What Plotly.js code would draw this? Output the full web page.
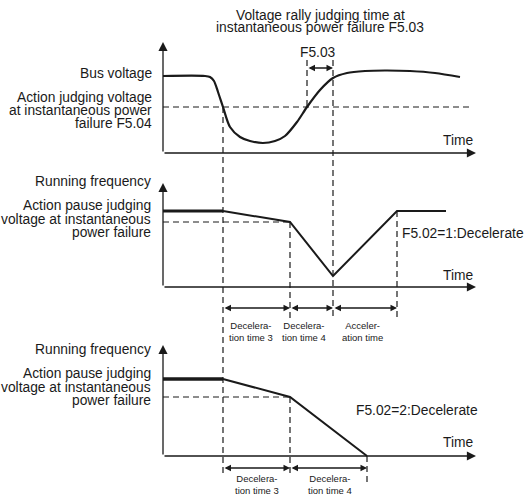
<!DOCTYPE html>
<html>
<head>
<meta charset="utf-8">
<script src="https://cdn.plot.ly/plotly-3.0.1.min.js"></script>
<style>
  html, body { margin: 0; padding: 0; background: #fff; }
  #chart { width: 525px; height: 496px; }
</style>
</head>
<body>
<div id="chart"></div>
<script>
// Power failure ride-through timing diagram (three stacked panels)

// --- time marks (shared time axis, 0 = vertical axis) ---
const tFail = 60;      // bus voltage drops below F5.04
const tRally = 144;    // bus voltage back above F5.04
const tRecover = 170;  // rally judging time F5.03 elapsed
const tDec3 = 127;     // end of deceleration time 3
const tAcc = 234;      // end of acceleration time
const tStop = 204;     // frequency reaches zero (F5.02=2)

// --- panel 1: bus voltage ---
const busT = [0, 42, 47, 51, 55, 60, 67, 77, 87, 100, 112, 122, 134, 144, 157, 170, 184, 202, 222, 247, 272, 297];
const busV = [77, 77, 76, 72, 61, 46, 26, 16, 12, 10, 12, 17, 31, 46, 63, 75, 80, 82, 82.5, 82, 80, 76];
const failLevel = 46;  // F5.04

// --- panel 2: running frequency, F5.02=1 ---
const run1T = [tFail, tDec3, tRecover, tAcc, 283];
const run1V = [76, 65, 11, 76, 76];
const run1Hold = [0, tFail];
const run1HoldV = [76, 76];
const pause1 = 65;

// --- panel 3: running frequency, F5.02=2 ---
const run2T = [tFail, tDec3, tStop];
const run2V = [77, 59, 0];
const run2Hold = [0, tFail];
const run2HoldV = [77, 77];
const pause2 = 59;

const axisEnd = 313;

const W = 525, H = 496;
const px = x => x / W;
const py = y => 1 - y / H;

const ink = '#1a1a1a';
const dashStyle = { color: ink, width: 1.2, dash: '6px,4px' };

function line(x, y, yaxis, style, shape) {
    return {
        x: x, y: y, yaxis: yaxis,
        type: 'scatter', mode: 'lines',
        line: Object.assign({}, style, shape ? { shape: shape, smoothing: 0.8 } : {}),
        hoverinfo: 'skip', showlegend: false
    };
}

const traces = [
    // panel 1
    line([0, 309], [failLevel, failLevel], 'y', dashStyle),
    line([tRally, tRally], [93, failLevel], 'y', dashStyle),
    line([tRecover, tRecover], [93, -165], 'y', dashStyle),
    line([tFail, tFail], [failLevel, -324], 'y', dashStyle),
    line(busT, busV, 'y', { color: ink, width: 2.2 }, 'spline'),
    // panel 2
    line([0, tDec3], [pause1, pause1], 'y2', dashStyle),
    line([tDec3, tDec3], [pause1, -31], 'y2', dashStyle),
    line([tAcc, tAcc], [76, -31], 'y2', dashStyle),
    line(run1T, run1V, 'y2', { color: ink, width: 2 }),
    line(run1Hold, run1HoldV, 'y2', { color: ink, width: 3 }),
    // panel 3
    line([0, tDec3], [pause2, pause2], 'y3', dashStyle),
    line([tDec3, tDec3], [pause2, -19], 'y3', dashStyle),
    line([tStop, tStop], [0, -26], 'y3', dashStyle)
];
traces.push(line(run2T, run2V, 'y3', { color: ink, width: 2 }));
traces.push(line(run2Hold, run2HoldV, 'y3', { color: ink, width: 3.5 }));

const font = { family: 'Liberation Sans, Arial, sans-serif', size: 13.8, color: ink };
const small = { family: 'Liberation Sans, Arial, sans-serif', size: 9.5, color: ink };

const annotations = [];

function arrow(x0, y0, x1, y1, yref, both, opts) {
    annotations.push(Object.assign({
        x: x1, y: y1, ax: x0, ay: y0,
        xref: 'x', yref: yref, axref: 'x', ayref: yref,
        text: '', showarrow: true,
        arrowhead: 2, startarrowhead: 2,
        arrowside: both ? 'end+start' : 'end',
        arrowsize: 1, startarrowsize: 1,
        arrowwidth: 1.3, arrowcolor: ink, standoff: 0, startstandoff: 0
    }, opts || {}));
}

function label(text, x, y, anchor, f) {
    annotations.push({
        text: text, x: px(x), y: py(y), xref: 'paper', yref: 'paper',
        xanchor: anchor, yanchor: 'middle', showarrow: false,
        align: anchor === 'right' ? 'right' : (anchor === 'left' ? 'left' : 'center'),
        font: f || font
    });
}

// axes with arrowheads
arrow(0, 0, 0, 111, 'y', false, { arrowsize: 1.4 });
arrow(0, 0, axisEnd, 0, 'y', false, { arrowsize: 1.4 });
arrow(0, 0, 0, 104, 'y2', false, { arrowsize: 1.4 });
arrow(0, 0, axisEnd, 0, 'y2', false, { arrowsize: 1.4 });
arrow(0, 0, 0, 111, 'y3', false, { arrowsize: 1.4 });
arrow(0, 0, axisEnd, 0, 'y3', false, { arrowsize: 1.4 });

// time spans
arrow(tRally, 85, tRecover, 85, 'y', true);
arrow(tFail, -21, tDec3, -21, 'y2', true);
arrow(tDec3, -21, tRecover, -21, 'y2', true);
arrow(tRecover, -21, tAcc, -21, 'y2', true);
arrow(tFail, -12, tDec3, -12, 'y3', true);
arrow(tDec3, -12, tStop, -12, 'y3', true);

// title
label('Voltage rally judging time at', 320, 15, 'center');
label('instantaneous power failure F5.03', 320, 28, 'center');
label('F5.03', 318, 52, 'center');

// panel 1 text
label('Bus voltage', 154, 74, 'right');
label('Action judging voltage', 154, 98, 'right');
label('at instantaneous power', 154, 111, 'right');
label('failure F5.04', 154, 123, 'right');
label('Time', 458, 140, 'center');

// panel 2 text
label('Running frequency', 153, 181, 'right');
label('Action pause judging', 153, 205, 'right');
label('voltage at instantaneous', 153, 219, 'right');
label('power failure', 153, 232, 'right');
label('F5.02=1:Decelerate', 400, 233, 'left');
label('Time', 458, 275, 'center');
label('Decelera-<br>tion time 3', 251, 331, 'center', small);
label('Decelera-<br>tion time 4', 304, 331, 'center', small);
label('Acceler-<br>ation time', 362, 331, 'center', small);

// panel 3 text
label('Running frequency', 153, 349, 'right');
label('Action pause judging', 153, 373, 'right');
label('voltage at instantaneous', 153, 387, 'right');
label('power failure', 153, 400, 'right');
label('F5.02=2:Decelerate', 354, 410, 'left');
label('Time', 458, 442, 'center');
label('Decelera-<br>tion time 3', 257, 484, 'center', small);
label('Decelera-<br>tion time 4', 330, 484, 'center', small);

const hidden = { visible: false, fixedrange: true, showgrid: false, zeroline: false };

const layout = {
    width: W,
    height: H,
    margin: { l: 0, r: 0, t: 0, b: 0 },
    paper_bgcolor: '#ffffff',
    plot_bgcolor: '#ffffff',
    showlegend: false,
    xaxis: Object.assign({ range: [-163, 362] }, hidden),
    yaxis: Object.assign({ range: [-343, 153] }, hidden),
    yaxis2: Object.assign({ range: [-209, 287], overlaying: 'y' }, hidden),
    yaxis3: Object.assign({ range: [-40, 456], overlaying: 'y' }, hidden),
    annotations: annotations
};

Plotly.newPlot('chart', traces, layout, { displayModeBar: false, staticPlot: true });
</script>
</body>
</html>
